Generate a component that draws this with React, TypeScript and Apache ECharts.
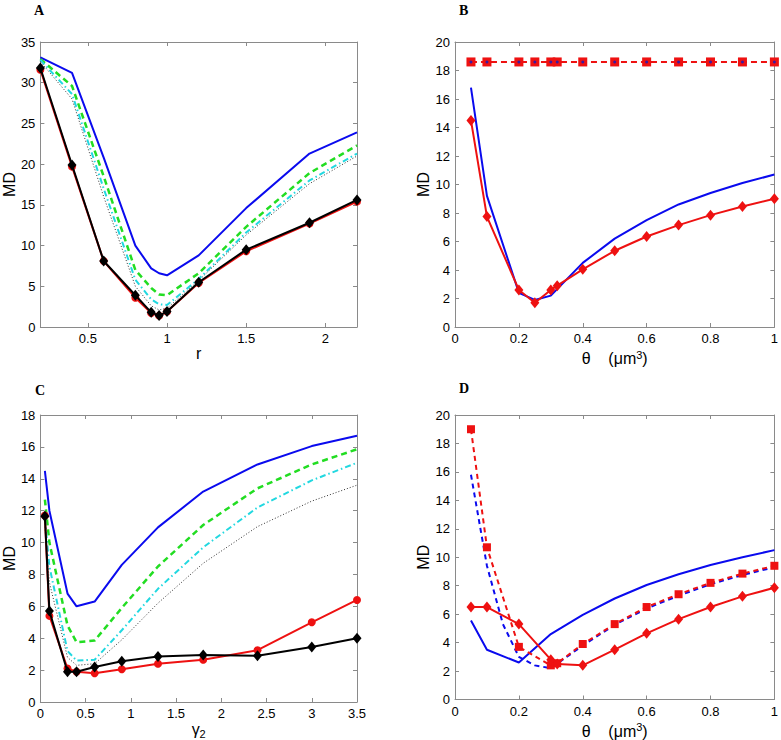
import React, { useEffect, useRef } from "react";
import * as echarts from "echarts";

// ---------- Panel A ----------
const aX = [0.2, 0.4, 0.6, 0.8, 0.9, 0.95, 1.0, 1.2, 1.5, 1.9, 2.2];
const aBlue = [33.1, 31.2, 20.8, 10.0, 7.2, 6.6, 6.35, 8.8, 14.6, 21.3, 23.9];
const aGreen = [32.9, 29.6, 18.5, 7.0, 4.8, 4.0, 3.9, 6.6, 12.3, 18.9, 22.3];
const aCyan = [32.8, 28.6, 17.0, 5.8, 3.4, 2.8, 2.7, 5.9, 11.6, 18.0, 21.3];
const aDotted = [32.6, 28.0, 16.0, 5.0, 2.6, 2.1, 2.3, 5.7, 11.3, 17.6, 21.0];
const aRed = [31.6, 19.7, 8.1, 3.6, 1.7, 1.4, 1.9, 5.4, 9.3, 12.7, 15.4];
const aBlack = [31.8, 19.9, 8.1, 3.9, 1.8, 1.4, 1.9, 5.5, 9.5, 12.8, 15.6];
const aXTicks = [0.5, 1, 1.5, 2];

// ---------- Panel B ----------
const bX = [0.05, 0.1, 0.2, 0.25, 0.3, 0.32, 0.4, 0.5, 0.6, 0.7, 0.8, 0.9, 1.0];
const bFlat = [18.6, 18.6, 18.6, 18.6, 18.6, 18.6, 18.6, 18.6, 18.6, 18.6, 18.6, 18.6, 18.6];
const bBlueX = [0.05, 0.1, 0.2, 0.25, 0.3, 0.4, 0.5, 0.6, 0.7, 0.8, 0.9, 1.0];
const bBlue = [16.8, 9.2, 2.4, 1.9, 2.2, 4.5, 6.2, 7.5, 8.6, 9.4, 10.1, 10.7];
const bRed = [14.5, 7.75, 2.6, 1.7, 2.6, 2.9, 4.05, 5.35, 6.35, 7.15, 7.85, 8.45, 9.0];
const thetaTicks = [0, 0.2, 0.4, 0.6, 0.8, 1];

// ---------- Panel C ----------
const cX = [0.05, 0.1, 0.3, 0.4, 0.6, 0.9, 1.3, 1.8, 2.4, 3.0, 3.5];
const cBlue = [14.5, 12.0, 6.8, 6.0, 6.3, 8.6, 10.95, 13.2, 14.9, 16.05, 16.7];
const cGreen = [12.7, 10.0, 4.8, 3.75, 3.85, 5.9, 8.5, 11.1, 13.4, 14.9, 15.85];
const cCyan = [11.5, 8.5, 3.2, 2.6, 2.65, 4.5, 7.1, 9.7, 12.2, 13.9, 15.0];
const cDotted = [11.0, 7.5, 2.8, 2.3, 2.4, 3.9, 6.2, 8.7, 11.0, 12.6, 13.6];
const cRed = [11.7, 5.4, 2.1, 1.9, 1.8, 2.05, 2.4, 2.65, 3.25, 5.0, 6.4];
const cBlack = [11.65, 5.7, 1.9, 1.9, 2.2, 2.55, 2.85, 2.95, 2.9, 3.45, 4.0];
const gammaTicks = [0, 0.5, 1, 1.5, 2, 2.5, 3, 3.5];

// ---------- Panel D ----------
const dX = [0.05, 0.1, 0.2, 0.3, 0.32, 0.4, 0.5, 0.6, 0.7, 0.8, 0.9, 1.0];
const dRedDashed = [19.0, 10.7, 3.7, 2.4, 2.55, 3.9, 5.3, 6.5, 7.4, 8.2, 8.85, 9.4];
const dBlueDashedX = [0.05, 0.1, 0.15, 0.2, 0.25, 0.3, 0.4, 0.5, 0.6, 0.7, 0.8, 0.9, 1.0];
const dBlueDashed = [15.8, 9.4, 5.3, 3.0, 2.4, 2.2, 3.8, 5.25, 6.4, 7.3, 8.1, 8.75, 9.3];
const dRedSolid = [6.5, 6.5, 5.3, 2.8, 2.5, 2.4, 3.5, 4.65, 5.65, 6.5, 7.25, 7.85];
const dBlueSolidX = [0.05, 0.1, 0.2, 0.3, 0.4, 0.5, 0.6, 0.7, 0.8, 0.9, 1.0];
const dBlueSolid = [5.55, 3.5, 2.6, 4.6, 5.95, 7.1, 8.05, 8.8, 9.45, 10.0, 10.5];

const BLUE = "#0a0aee";
const RED = "#ee1111";
const GREEN = "#22dd22";
const CYAN = "#22d8e0";
const BLACK = "#000000";
const AXIS = "#8a8a8a";
const FONT = "Liberation Sans, Arial, sans-serif";

const zip = (xs: number[], ys: number[]) => xs.map((x, i) => [x, ys[i]]);

function line(
  idx: number,
  xs: number[],
  ys: number[],
  color: string,
  width: number,
  type: any = "solid",
  symbol: string = "none",
  symbolSize: any = 0,
  z = 2
) {
  return {
    type: "line",
    xAxisIndex: idx,
    yAxisIndex: idx,
    data: zip(xs, ys),
    symbol,
    symbolSize,
    showSymbol: symbol !== "none",
    lineStyle: { color, width, type },
    itemStyle: { color, borderWidth: 0 },
    z,
    silent: true,
  };
}

const grids = [
  { left: 35, top: 42, width: 322, height: 285 },
  { left: 455, top: 42, width: 321, height: 285 },
  { left: 35, top: 415, width: 322, height: 287 },
  { left: 455, top: 415, width: 321, height: 287 },
];

const xCfg = [
  { min: 0.2, max: 2.2, custom: aXTicks, name: "r", nameGap: 18 },
  { min: 0, max: 1, custom: thetaTicks, name: "θ    (μm{sup|3})", nameGap: 22 },
  { min: 0, max: 3.5, custom: gammaTicks, name: "γ{sub|2}", nameGap: 18 },
  { min: 0, max: 1, custom: thetaTicks, name: "θ    (μm{sup|3})", nameGap: 22 },
];
const yCfg = [
  { min: 0, max: 35, interval: 5 },
  { min: 0, max: 20, interval: 2 },
  { min: 0, max: 18, interval: 2 },
  { min: 0, max: 20, interval: 2 },
];

export default function App() {
  const ref = useRef<HTMLDivElement>(null);
  useEffect(() => {
    if (!ref.current) return;
    const chart = echarts.init(ref.current, undefined, { renderer: "svg" });

    const xAxes: any[] = [];
    const yAxes: any[] = [];
    const labelStyle = { fontFamily: FONT, fontSize: 13, lineHeight: 11, color: "#000" };
    grids.forEach((_, i) => {
      const xc: any = xCfg[i];
      const yc = yCfg[i];
      const xBase: any = {
        type: "value",
        gridIndex: i,
        min: xc.min,
        max: xc.max,
        splitLine: { show: false },
        axisLine: { show: true, onZero: false, lineStyle: { color: AXIS, width: 1 } },
        axisTick: {
          show: true,
          inside: true,
          length: 4,
          lineStyle: { color: AXIS },
          customValues: xc.custom,
        },
      };
      xAxes.push({
        ...xBase,
        position: "bottom",
        name: xc.name,
        nameLocation: "middle",
        nameGap: xc.nameGap,
        nameTextStyle: {
          fontFamily: FONT,
          fontSize: 16,
          color: "#000",
          rich: {
            sup: { fontSize: 11, fontFamily: FONT, color: "#000", verticalAlign: "top", padding: [0, 0, 8, 0] },
            sub: { fontSize: 11, fontFamily: FONT, color: "#000", verticalAlign: "bottom", padding: [8, 0, 0, 0] },
          },
        },
        axisLabel: {
          show: true,
          ...labelStyle,
          margin: 6,
          showMinLabel: true,
          showMaxLabel: true,
          hideOverlap: false,
          customValues: xc.custom,
        },
      });
      xAxes.push({
        ...xBase,
        position: "top",
        axisLabel: { show: false },
      });
      const yBase: any = {
        type: "value",
        gridIndex: i,
        min: yc.min,
        max: yc.max,
        interval: yc.interval,
        splitLine: { show: false },
        axisLine: { show: true, onZero: false, lineStyle: { color: AXIS, width: 1 } },
        axisTick: { show: true, inside: true, length: 4, lineStyle: { color: AXIS } },
      };
      yAxes.push({
        ...yBase,
        position: "left",
        name: "MD",
        nameLocation: "middle",
        nameGap: 22,
        nameTextStyle: { fontFamily: FONT, fontSize: 16, color: "#000" },
        axisLabel: { show: true, ...labelStyle, margin: 5, showMinLabel: true, showMaxLabel: true, hideOverlap: false },
      });
      yAxes.push({
        ...yBase,
        position: "right",
        axisLabel: { show: false },
      });
    });

    const P = (p: number) => 2 * p;

    const series: any[] = [
      // A
      line(P(0), aX, aBlue, BLUE, 2),
      line(P(0), aX, aGreen, GREEN, 2.5, [6, 4]),
      line(P(0), aX, aCyan, CYAN, 2, [6, 3, 1.5, 3]),
      line(P(0), aX, aDotted, "#333", 1, [1, 2]),
      line(P(0), aX, aRed, RED, 2, "solid", "circle", 8, 3),
      line(P(0), aX, aBlack, BLACK, 2, "solid", "diamond", [9, 11], 4),
      // B
      line(P(1), bBlueX, bBlue, BLUE, 2),
      line(P(1), bX, bRed, RED, 2, "solid", "diamond", [9, 11], 3),
      line(P(1), bX, bFlat, RED, 2, [6, 4], "rect", 9, 3),
      {
        ...line(P(1), bX, bFlat, "#3a1aa0", 0, "solid", "circle", 3, 5),
        lineStyle: { opacity: 0, width: 0 },
      },
      // C
      line(P(2), cX, cBlue, BLUE, 2),
      line(P(2), cX, cGreen, GREEN, 2.5, [6, 4]),
      line(P(2), cX, cCyan, CYAN, 2, [6, 3, 1.5, 3]),
      line(P(2), cX, cDotted, "#333", 1, [1, 2]),
      line(P(2), cX, cRed, RED, 2, "solid", "circle", 8, 3),
      line(P(2), cX, cBlack, BLACK, 2, "solid", "diamond", [9, 11], 4),
      // D
      line(P(3), dBlueSolidX, dBlueSolid, BLUE, 2),
      line(P(3), dBlueDashedX, dBlueDashed, BLUE, 2, [5, 4]),
      line(P(3), dX, dRedDashed, RED, 2, [5, 4], "rect", 8, 3),
      line(P(3), dX, dRedSolid, RED, 2, "solid", "diamond", [9, 11], 3),
    ];

    const letter = (t: string, x: number, y: number) => ({
      type: "text",
      left: x,
      top: y,
      style: {
        text: t,
        font: "bold 14px 'Liberation Serif', 'Times New Roman', serif",
        fill: "#000",
      },
    });

    chart.setOption({
      animation: false,
      backgroundColor: "#fff",
      grid: grids.map((g) => ({ ...g, containLabel: false })),
      xAxis: xAxes,
      yAxis: yAxes,
      series,
      graphic: [letter("A", 34, 3), letter("B", 459, 3), letter("C", 35, 383), letter("D", 459, 381)],
    });
    return () => chart.dispose();
  }, []);
  return <div ref={ref} style={{ width: 781, height: 740, position: "absolute", left: 0, top: 0 }} />;
}
